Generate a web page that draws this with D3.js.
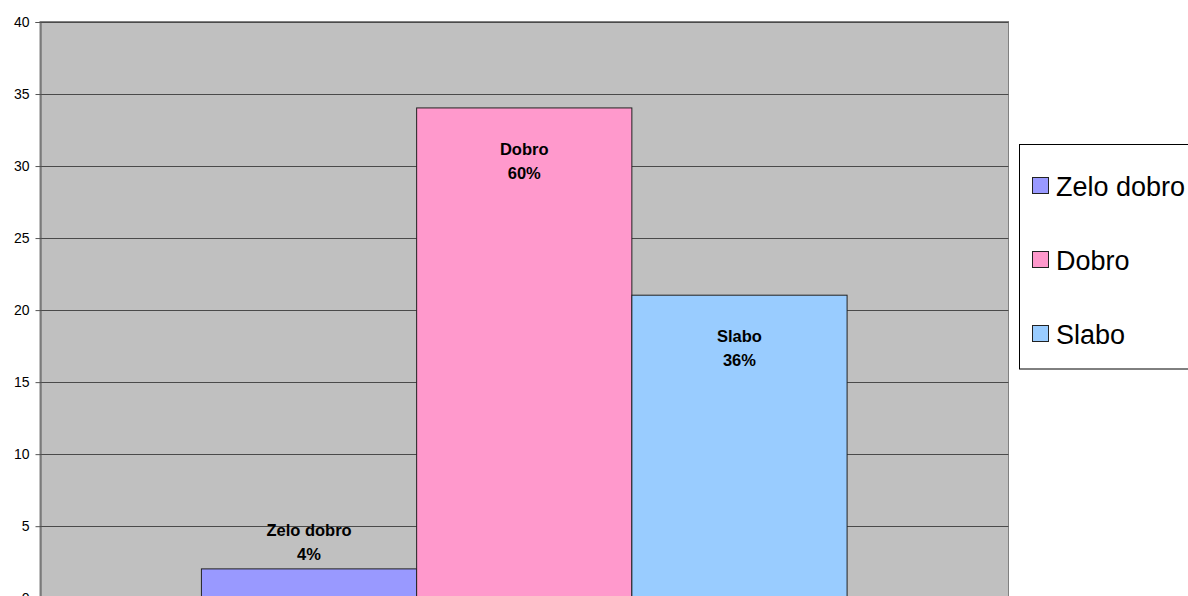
<!DOCTYPE html>
<html>
<head>
<meta charset="utf-8">
<script src="https://cdn.jsdelivr.net/npm/d3@7"></script>
<style>
  body { margin: 0; background: #fff; }
  svg { display: block; font-family: Arial, "Liberation Sans", sans-serif; }
</style>
</head>
<body>
<script>
// data
var categories = [""];
var series = ["Zelo dobro", "Dobro", "Slabo"];
var values = [2, 34, 21];
var percents = ["4%", "60%", "36%"];
var colors = ["#9999ff", "#ff99cc", "#99ccff"];
var yTicks = [0, 5, 10, 15, 20, 25, 30, 35, 40];

var width = 1188, height = 596;
var plot = { left: 40, right: 1008.5, top: 21.5, bottom: 597.7 };

var svg = d3.select("body").append("svg")
    .attr("width", width)
    .attr("height", height);

// scales
var y = d3.scaleLinear().domain([0, 40]).range([plot.bottom, plot.top]);
var x0 = d3.scaleBand().domain(categories)
    .range([plot.left, plot.right])
    .paddingInner(0).paddingOuter(0.25);
var x1 = d3.scaleBand().domain(series)
    .range([0, x0.bandwidth()]).padding(0);

// plot background
svg.append("rect")
    .attr("x", plot.left).attr("y", plot.top)
    .attr("width", plot.right - plot.left)
    .attr("height", plot.bottom - plot.top)
    .attr("fill", "#c0c0c0")
    .attr("stroke", "#808080")
    .attr("stroke-width", 1);

// gridlines
svg.append("g").selectAll("line")
    .data(yTicks.filter(function (d) { return d > 0; }))
    .enter().append("line")
    .attr("x1", plot.left).attr("x2", plot.right)
    .attr("y1", function (d) { return Math.round(y(d)) + 0.5; })
    .attr("y2", function (d) { return Math.round(y(d)) + 0.5; })
    .attr("stroke", "#4a4a4a");

// y axis
var yAxis = svg.append("g")
    .attr("transform", "translate(" + (plot.left + 0.5) + ",0.5)")
    .call(d3.axisLeft(y).tickValues(yTicks).tickSize(5).tickPadding(6));
yAxis.select(".domain").attr("stroke", "#555");
yAxis.selectAll(".tick line").attr("stroke", "#555");
yAxis.selectAll(".tick text")
    .attr("font-size", 14)
    .attr("font-family", "Arial, 'Liberation Sans', sans-serif")
    .attr("fill", "#000");

// bars
var g = svg.append("g")
    .attr("transform", "translate(" + x0(categories[0]) + ",0)");

g.selectAll("rect")
    .data(series)
    .enter().append("rect")
    .attr("x", function (d) { return x1(d); })
    .attr("y", function (d, i) { return y(values[i]); })
    .attr("width", x1.bandwidth())
    .attr("height", function (d, i) { return y(0) - y(values[i]); })
    .attr("fill", function (d, i) { return colors[i]; })
    .attr("stroke", "#222")
    .attr("stroke-width", 1);

// data labels
var labels = g.selectAll(".lbl")
    .data(series)
    .enter().append("text")
    .attr("class", "lbl")
    .attr("text-anchor", "middle")
    .attr("font-size", 16.5)
    .attr("font-weight", "bold")
    .attr("fill", "#000")
    .attr("x", function (d) { return x1(d) + x1.bandwidth() / 2; })
    .attr("y", function (d, i) {
        var top = y(values[i]);
        return values[i] < 5 ? top - 33 : top + 47;
    });
labels.append("tspan")
    .attr("x", function (d) { return x1(d) + x1.bandwidth() / 2; })
    .text(function (d) { return d; });
labels.append("tspan")
    .attr("x", function (d) { return x1(d) + x1.bandwidth() / 2; })
    .attr("dy", 24)
    .text(function (d, i) { return percents[i]; });

// legend
var legend = svg.append("g");
legend.append("rect")
    .attr("x", 1019.5).attr("y", 144.5)
    .attr("width", 200).attr("height", 224.5)
    .attr("fill", "#fff")
    .attr("stroke", "#000");

var item = legend.selectAll(".item")
    .data(series)
    .enter().append("g")
    .attr("class", "item")
    .attr("transform", function (d, i) { return "translate(0," + (186 + i * 74) + ")"; });
item.append("rect")
    .attr("x", 1032.5).attr("y", -8.5)
    .attr("width", 16).attr("height", 16)
    .attr("fill", function (d, i) { return colors[i]; })
    .attr("stroke", "#222");
item.append("text")
    .attr("x", 1056)
    .attr("y", 9.5)
    .attr("font-size", 27)
    .attr("fill", "#000")
    .text(function (d) { return d; });
</script>
</body>
</html>
